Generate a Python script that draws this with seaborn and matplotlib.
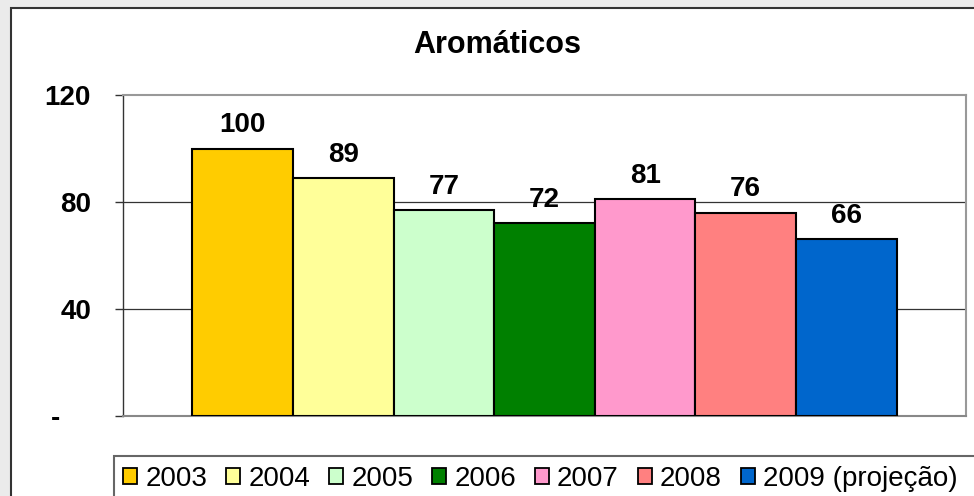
import matplotlib
matplotlib.use("Agg")
import matplotlib.pyplot as plt
import matplotlib.patches as mpatches
import pandas as pd
import seaborn as sns

# data
years = ["2003", "2004", "2005", "2006", "2007", "2008", "2009 (projeção)"]
values = [100, 89, 77, 72, 81, 76, 66]
colors = ["#FFCC00", "#FFFF99", "#CCFFCC", "#008000", "#FF99CC", "#FF8080", "#0066CC"]
yticks = [0, 40, 80, 120]
yticklabels = ["-\u2007\u2007", "40", "80", "120"]

df = pd.DataFrame({"ano": years, "valor": values})

sns.set_style("white")
plt.rcParams["font.family"] = ["Liberation Sans", "DejaVu Sans"]
plt.rcParams["text.color"] = "black"
plt.rcParams["ytick.color"] = "black"
plt.rcParams["ytick.labelcolor"] = "black"

fig = plt.figure(figsize=(9.74, 4.96), dpi=100, facecolor="#ebebeb")
# white chart panel with dark frame
panel = mpatches.Rectangle((11 / 974, -0.1), 1, 1.1 - 8 / 496, transform=fig.transFigure,
                           facecolor="white", edgecolor="#333333", linewidth=1.5, zorder=-10)
fig.patches.append(panel)

ax = fig.add_axes([123 / 974, 1 - 416 / 496, (966 - 123) / 974, (416 - 95) / 496])
ax.set_zorder(2)
ax.set_facecolor("white")

sns.barplot(data=df, x="ano", y="valor", hue="ano", palette=colors, saturation=1, width=1.0,
            edgecolor="black", linewidth=1.5, legend=False, ax=ax, zorder=3)

for c in ax.containers:
    ax.bar_label(c, fmt="%d", padding=7.5, fontsize=20, fontweight="bold")

ax.set_xlim(-1.19, 7.19)
ax.set_ylim(0, 120)
ax.set_yticks(yticks)
ax.set_yticklabels(yticklabels, fontsize=20, fontweight="bold")
ax.tick_params(axis="y", length=6, width=1, color="#333333", pad=17, left=True)
ax.set_xticks([])
ax.set_xlabel("")
ax.set_ylabel("")
for y in [40, 80]:
    ax.axhline(y, color="#333333", linewidth=0.9, zorder=1)

for side in ["top", "right"]:
    ax.spines[side].set_color("#999999")
    ax.spines[side].set_linewidth(1.5)
ax.spines["left"].set_color("#333333")
ax.spines["left"].set_linewidth(1.0)
ax.spines["bottom"].set_color("#888888")
ax.spines["bottom"].set_linewidth(1.5)

fig.text(497 / 974, 1 - 45 / 496, "Aromáticos", ha="center", va="center",
         fontsize=22, fontweight="bold")

# legend frame running off the right and bottom edges
legbox = mpatches.Rectangle((114 / 974, -0.1), 1, 0.1 + 1 - 456 / 496, transform=fig.transFigure,
                            facecolor="white", edgecolor="#666666", linewidth=1.5, zorder=-5)
fig.patches.append(legbox)

handles = [mpatches.Patch(facecolor=c, edgecolor="black", linewidth=1.3) for c in colors]
leg = fig.legend(handles, years, loc="center left", bbox_to_anchor=(123 / 974, 1 - 479 / 496),
                 ncol=7, fontsize=20, frameon=False, handlelength=0.5,
                 handleheight=0.5, handletextpad=0.3, columnspacing=0.68, borderpad=0.0,
                 borderaxespad=0.0)

fig.savefig("out.png", dpi=100, facecolor=fig.get_facecolor())
